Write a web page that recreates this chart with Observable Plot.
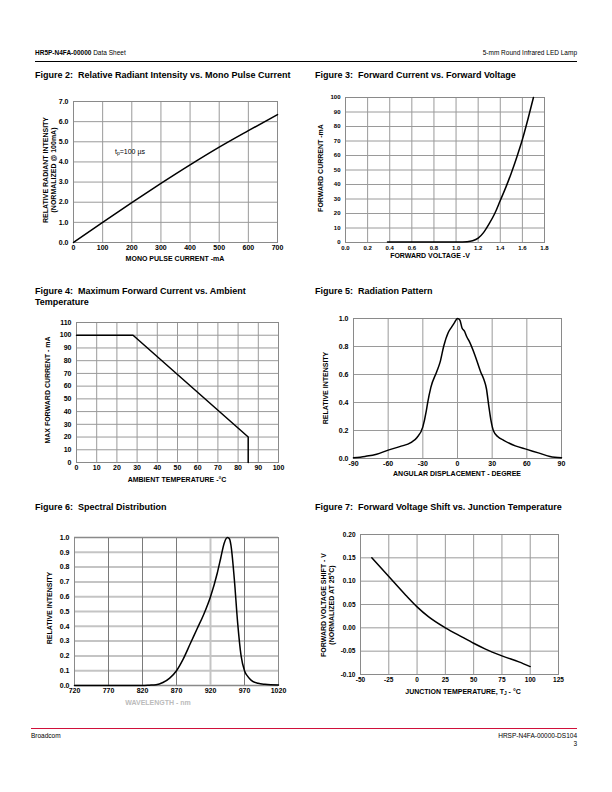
<!DOCTYPE html>
<html><head><meta charset="utf-8">
<script src="https://cdn.jsdelivr.net/npm/d3@7"></script>
<script src="https://cdn.jsdelivr.net/npm/@observablehq/plot@0.6"></script>
<style>
html,body{margin:0;padding:0;background:#fff;}
#page{position:relative;width:612px;height:792px;overflow:hidden;font-family:"Liberation Sans",Arial,sans-serif;color:#000;}
.abs{position:absolute;white-space:nowrap;}
.hdr{font-size:6.5px;}
.title{font-size:9px;font-weight:bold;}
.axt{font-size:7px;font-weight:bold;line-height:1.15;text-align:center;}
.ann{font-size:7px;}
sub{font-size:0.7em;vertical-align:-0.25em;}
</style></head><body><div id="page"></div>
<script>
// ---------- Figure 2: Relative Radiant Intensity vs. Mono Pulse Current ----------
const pulseCurrent = [0, 100, 200, 300, 400, 500, 600, 700];
const radiantIntensity = [0, 1.0, 1.98, 2.93, 3.85, 4.73, 5.55, 6.35];
const fig2XTicks = [0, 100, 200, 300, 400, 500, 600, 700];
const fig2YTicks = [0, 1, 2, 3, 4, 5, 6, 7];

// ---------- Figure 3: Forward Current vs. Forward Voltage ----------
const fwdVoltage = [0.38, 0.6, 0.8, 1.0, 1.1, 1.15, 1.2, 1.25, 1.3, 1.35, 1.4, 1.45, 1.5, 1.55, 1.6, 1.65, 1.7];
const fwdCurrent = [0.3, 0.3, 0.3, 0.4, 0.6, 1.2, 3, 7, 13, 20, 29, 38, 48, 59, 71, 85, 100];
const fig3XTicks = [0, 0.2, 0.4, 0.6, 0.8, 1.0, 1.2, 1.4, 1.6, 1.8];
const fig3YTicks = [0, 10, 20, 30, 40, 50, 60, 70, 80, 90, 100];

// ---------- Figure 4: Maximum Forward Current vs. Ambient Temperature ----------
const ambientTemp = [0, 28, 85, 85];
const maxCurrent = [100, 100, 20, 0];
const fig4XTicks = [0, 10, 20, 30, 40, 50, 60, 70, 80, 90, 100];
const fig4YTicks = [0, 10, 20, 30, 40, 50, 60, 70, 80, 90, 100, 110];

// ---------- Figure 5: Radiation Pattern ----------
const angle = [-90, -80, -70, -60, -50, -40, -35, -30, -27, -26, -23, -18, -15, -12, -8, -5, -3, 0, 2, 4, 6, 8, 10, 15, 20, 23, 25, 27, 29, 31, 35, 40, 50, 60, 70, 80, 90];
const radIntensity = [0.005, 0.015, 0.03, 0.06, 0.085, 0.115, 0.15, 0.226, 0.34, 0.39, 0.51, 0.62, 0.69, 0.8, 0.9, 0.94, 0.965, 1.0, 0.99, 0.93, 0.91, 0.87, 0.84, 0.74, 0.62, 0.56, 0.5, 0.38, 0.27, 0.2, 0.155, 0.13, 0.09, 0.065, 0.04, 0.015, 0.005];
const fig5XTicks = [-90, -60, -30, 0, 30, 60, 90];
const fig5YTicks = [0, 0.2, 0.4, 0.6, 0.8, 1.0];

// ---------- Figure 6: Spectral Distribution ----------
const wavelength = [720, 770, 820, 830, 840, 850, 860, 870, 880, 890, 900, 910, 920, 930, 935, 940, 945, 948, 950, 955, 960, 965, 970, 975, 980, 990, 1000, 1020];
const spectral = [0, 0, 0, 0.002, 0.005, 0.02, 0.05, 0.1, 0.18, 0.28, 0.38, 0.48, 0.6, 0.76, 0.86, 0.96, 1.0, 0.99, 0.95, 0.72, 0.42, 0.2, 0.1, 0.06, 0.035, 0.015, 0.008, 0.003];
const fig6XTicks = [720, 770, 820, 870, 920, 970, 1020];
const fig6YTicks = [0, 0.1, 0.2, 0.3, 0.4, 0.5, 0.6, 0.7, 0.8, 0.9, 1.0];

// ---------- Figure 7: Forward Voltage Shift vs. Junction Temperature ----------
const junctionTemp = [-40, -25, -10, 0, 10, 25, 40, 50, 60, 75, 90, 100];
const voltageShift = [0.15, 0.11, 0.07, 0.045, 0.024, 0.0, -0.02, -0.033, -0.045, -0.06, -0.073, -0.083];
const fig7XTicks = [-50, -25, 0, 25, 50, 75, 100, 125];
const fig7YTicks = [-0.10, -0.05, 0, 0.05, 0.10, 0.15, 0.20];

const page = document.getElementById("page");

function txt(html, x, y, cls, anchor) {
  const d = document.createElement("div");
  d.className = "abs " + cls;
  d.innerHTML = html;
  d.style.left = x + "px";
  d.style.top = y + "px";
  const tx = anchor === "middle" ? "-50%" : anchor === "end" ? "-100%" : "0";
  d.style.transform = `translate(${tx},-50%)`;
  page.appendChild(d);
  return d;
}
function vtxt(html, x, y, cls) {
  const d = document.createElement("div");
  d.className = "abs " + cls;
  d.innerHTML = html;
  d.style.left = x + "px";
  d.style.top = y + "px";
  d.style.transform = "translate(-50%,-50%) rotate(-90deg)";
  page.appendChild(d);
  return d;
}
function rule(x1, x2, y, color, w) {
  const d = document.createElement("div");
  d.className = "abs";
  d.style.left = x1 + "px"; d.style.width = (x2 - x1) + "px";
  d.style.top = y + "px"; d.style.height = w + "px"; d.style.background = color;
  page.appendChild(d);
}

function chart({L, R, T, B, xs, ys, data, xf, yf, xt, yt, fs, curve, extraGrid}) {
  const mL = 40, mR = 14, mT = 8, mB = 16;
  const marks = extraGrid ? extraGrid : [
    Plot.gridX(xt, {stroke: "#9a9a9a", strokeOpacity: 1}),
    Plot.gridY(yt, {stroke: "#9a9a9a", strokeOpacity: 1})
  ];
  const svg = Plot.plot({
    width: R - L + mL + mR, height: B - T + mT + mB,
    marginLeft: mL, marginRight: mR, marginTop: mT, marginBottom: mB,
    x: {domain: xs}, y: {domain: ys},
    style: {fontFamily: "'Liberation Sans', Arial, sans-serif", fontSize: fs + "px", fontWeight: "bold", background: "transparent", overflow: "visible", color: "#000"},
    marks: [
      ...marks,
      Plot.frame({stroke: "#8a8a8a"}),
      Plot.line(data, {x: "x", y: "y", stroke: "#000", strokeWidth: 1.5, curve: curve || "linear"}),
      Plot.axisX(xt, {tickSize: 0, tickPadding: 3, tickFormat: xf, label: null}),
      Plot.axisY(yt, {tickSize: 0, tickPadding: 5, tickFormat: yf, label: null})
    ]
  });
  svg.style.position = "absolute";
  svg.style.left = (L - mL) + "px";
  svg.style.top = (T - mT) + "px";
  page.appendChild(svg);
}
const zip = (a, b) => a.map((v, i) => ({x: v, y: b[i]}));
const f1 = d => d.toFixed(1), f2 = d => d.toFixed(2), fi = d => String(d);

// Header / footer
txt("<b>HR5P-N4FA-00000</b> Data Sheet", 35, 52, "hdr");
txt("5-mm Round Infrared LED Lamp", 577, 52, "hdr", "end");
rule(35, 577, 60.5, "#000", 1);
rule(31, 577, 728, "#d0103a", 1.3);
txt("Broadcom", 31, 735, "hdr");
txt("HRSP-N4FA-00000-DS104", 577, 735, "hdr", "end");
txt("3", 577, 743, "hdr", "end");

// Titles
txt("Figure 2:&nbsp; Relative Radiant Intensity vs. Mono Pulse Current", 35, 75, "title");
txt("Figure 3:&nbsp; Forward Current vs. Forward Voltage", 315, 75, "title");
txt("Figure 4:&nbsp; Maximum Forward Current vs. Ambient", 35, 291, "title");
txt("Temperature", 35, 302, "title");
txt("Figure 5:&nbsp; Radiation Pattern", 315, 291, "title");
txt("Figure 6:&nbsp; Spectral Distribution", 35, 507, "title");
txt("Figure 7:&nbsp; Forward Voltage Shift vs. Junction Temperature", 315, 507, "title");

// Fig 2
chart({L: 73, R: 277, T: 101, B: 242, xs: [0, 700], ys: [0, 7], data: zip(pulseCurrent, radiantIntensity), xf: fi, yf: f1, xt: fig2XTicks, yt: fig2YTicks, fs: 7, curve: "monotone-x"});
txt("MONO PULSE CURRENT -mA", 175, 259, "axt", "middle");
vtxt("RELATIVE RADIANT INTENSITY<br>(NORMALIZED @ 100mA)", 50, 170, "axt");
txt("t<sub>p</sub>=100 µs", 115, 152, "ann");

// Fig 3
chart({L: 345, R: 544, T: 97, B: 242, xs: [0, 1.8], ys: [0, 100], data: zip(fwdVoltage, fwdCurrent), xf: f1, yf: fi, xt: fig3XTicks, yt: fig3YTicks, fs: 6, curve: "monotone-x"});
txt("FORWARD VOLTAGE -V", 430, 255.5, "axt", "middle");
vtxt("FORWARD CURRENT -mA", 321, 168, "axt");

// Fig 4
chart({L: 76, R: 278, T: 322, B: 462, xs: [0, 100], ys: [0, 110], data: zip(ambientTemp, maxCurrent), xf: fi, yf: fi, xt: fig4XTicks, yt: fig4YTicks, fs: 7});
txt("AMBIENT TEMPERATURE -°C", 177, 480, "axt", "middle");
vtxt("MAX FORWARD CURRENT - mA", 48, 390, "axt");

// Fig 5
chart({L: 353, R: 561, T: 318, B: 458, xs: [-90, 90], ys: [0, 1], data: zip(angle, radIntensity), xf: fi, yf: f1, xt: fig5XTicks, yt: fig5YTicks, fs: 7, curve: "monotone-x"});
txt("ANGULAR DISPLACEMENT - DEGREE", 457, 474, "axt", "middle");
vtxt("RELATIVE INTENSITY", 326, 388, "axt");

// Fig 6
chart({L: 74, R: 278, T: 537, B: 685, xs: [720, 1020], ys: [0, 1], data: zip(wavelength, spectral), xf: fi, yf: f1, xt: fig6XTicks, yt: fig6YTicks, fs: 7, curve: "monotone-x",
  extraGrid: [
    Plot.gridY(fig6YTicks, {stroke: "#c4c4c4", strokeOpacity: 1, strokeWidth: 2}),
    Plot.gridX(fig6XTicks.filter(d => d !== 920), {stroke: "#7a7a7a", strokeOpacity: 1}),
    Plot.gridX([920], {stroke: "#c4c4c4", strokeOpacity: 1, strokeWidth: 2})
  ]});
txt("WAVELENGTH - nm", 158, 703, "axt", "middle").style.color = "#bbb";
vtxt("RELATIVE INTENSITY", 50, 608, "axt");

// Fig 7
chart({L: 360, R: 558, T: 534, B: 674, xs: [-50, 125], ys: [-0.1, 0.2], data: zip(junctionTemp, voltageShift), xf: fi, yf: f2, xt: fig7XTicks, yt: fig7YTicks, fs: 6.5, curve: "monotone-x"});
txt("JUNCTION TEMPERATURE, T<sub>J</sub> - °C", 463, 692, "axt", "middle");
vtxt("FORWARD VOLTAGE SHIFT - V<br>(NORMALIZED AT 25°C)", 328, 605, "axt");
</script></body></html>
